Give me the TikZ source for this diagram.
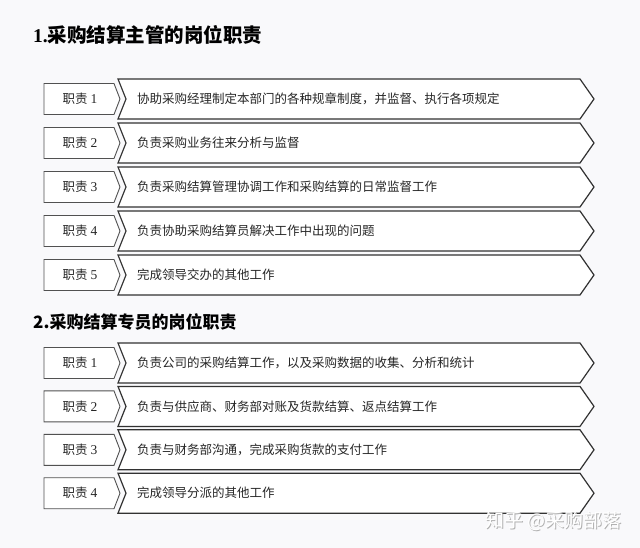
\documentclass[tikz,border=0pt]{standalone}
\usepackage{fontspec}
\setmainfont{Noto Sans CJK SC}
\newfontfamily\digitfont{Liberation Serif}
\usetikzlibrary{positioning}
\definecolor{pagebg}{RGB}{249,249,251}
\definecolor{edge}{RGB}{50,50,50}

\begin{document}
\begin{tikzpicture}[x=1pt, y=-1pt,
  tagtext/.style={font=\fontsize{12.5}{14}\selectfont, text=black!85, inner sep=0pt},
  duty/.style={anchor=west, font=\fontsize{12.5}{14}\selectfont, text=black!85, inner sep=0pt},
  tagline/.style={draw=edge!85, line width=0.9pt, fill=white},
  arrowline/.style={draw=edge, line width=1.2pt, fill=white},
  heading/.style={anchor=west, inner sep=0pt}]

\fill[pagebg] (0,0) rectangle (640,548);
\useasboundingbox (0,0) rectangle (640,548);

% section 1
\node[heading, font=\fontsize{19.5}{22}\selectfont\bfseries] (h1) at (33,35) {{\digitfont\bfseries 1.}采购结算主管的岗位职责};
\foreach \n/\txt in {1/{协助采购经理制定本部门的各种规章制度，并监督、执行各项规定},
                     2/{负责采购业务往来分析与监督},
                     3/{负责采购结算管理协调工作和采购结算的日常监督工作},
                     4/{负责协助采购结算员解决工作中出现的问题},
                     5/{完成领导交办的其他工作}}{
  \pgfmathsetmacro\y{99+44*(\n-1)}
  \draw[arrowline] (118,\y-20) -- (580,\y-20) -- (594,\y) -- (580,\y+20) -- (118,\y+20) -- (126,\y) -- cycle;
  \draw[tagline] (44,\y-15.5) -- (114,\y-15.5) -- (120,\y) -- (114,\y+15.5) -- (44,\y+15.5) -- cycle;
  \node[tagtext] (a\n) at (80,\y) {职责 {\digitfont\fontsize{13.5}{14}\selectfont\n}};
  \node[duty] (ta\n) at (137,\y) {\txt};
}

% section 2
\node[heading, font=\fontsize{17}{20}\selectfont\bfseries] (h2) at (33,322) {2.采购结算专员的岗位职责};
\foreach \n/\txt in {1/{负责公司的采购结算工作，以及采购数据的收集、分析和统计},
                     2/{负责与供应商、财务部对账及货款结算、返点结算工作},
                     3/{负责与财务部沟通，完成采购货款的支付工作},
                     4/{完成领导分派的其他工作}}{
  \pgfmathsetmacro\y{363+43.4*(\n-1)}
  \draw[arrowline] (118,\y-20) -- (580,\y-20) -- (594,\y) -- (580,\y+20) -- (118,\y+20) -- (126,\y) -- cycle;
  \draw[tagline] (44,\y-15.5) -- (114,\y-15.5) -- (120,\y) -- (114,\y+15.5) -- (44,\y+15.5) -- cycle;
  \node[tagtext] (b\n) at (80,\y) {职责 {\digitfont\fontsize{13.5}{14}\selectfont\n}};
  \node[duty] (tb\n) at (137,\y) {\txt};
}

% watermark
\node[anchor=west, inner sep=0pt, font=\fontsize{19}{20}\selectfont, text=gray!60] (wms) at (485.8,521.8) {知乎 @采购部落};
\node[anchor=west, inner sep=0pt, font=\fontsize{19}{20}\selectfont, text=white] (wm) at (485,521) {知乎 @采购部落};
\end{tikzpicture}
\end{document}
